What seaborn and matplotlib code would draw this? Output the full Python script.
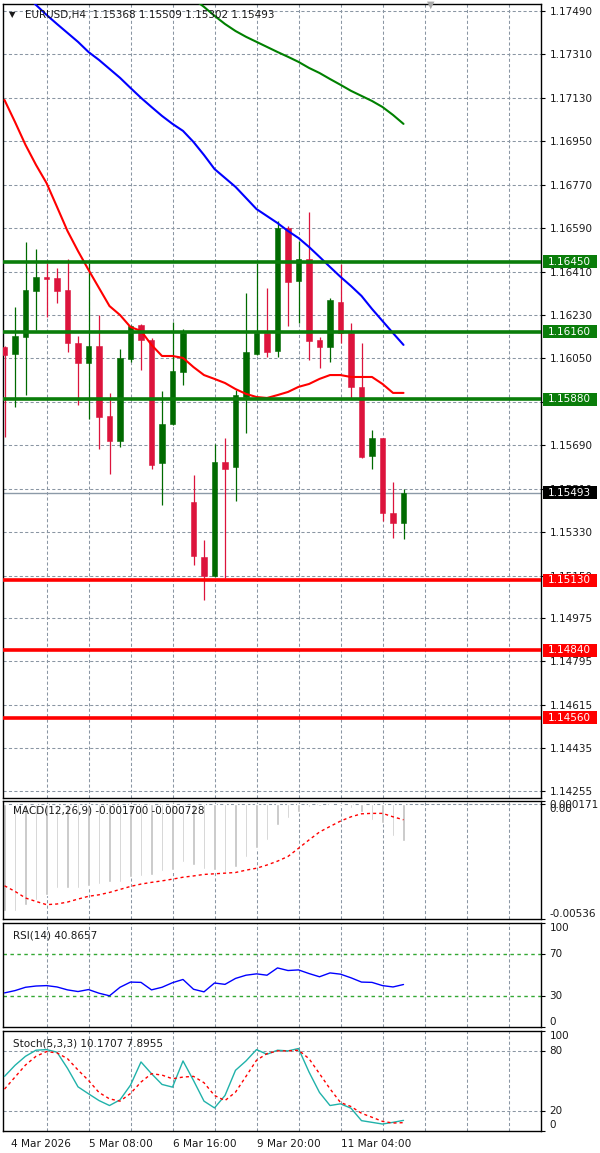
import numpy as np
import pandas as pd
import matplotlib
matplotlib.use("Agg")
import matplotlib.pyplot as plt
import matplotlib.transforms as mtransforms
from matplotlib.patches import Rectangle
import seaborn as sns

# ---------------- data ----------------
opens = [1.16097, 1.16068, 1.16140, 1.16331, 1.16389, 1.16385, 1.16334, 1.16113, 1.16032, 1.16101,
         1.15811, 1.15709, 1.16049, 1.16187, 1.16126, 1.15618, 1.15777, 1.15992, 1.15456, 1.15225,
         1.15149, 1.15619, 1.15601, 1.15891, 1.16068, 1.16154, 1.16081, 1.16592, 1.16371, 1.16461,
         1.16126, 1.16099, 1.16285, 1.16157, 1.15930, 1.15645, 1.15719, 1.15408, 1.15368]
highs = [1.16100, 1.16264, 1.16531, 1.16504, 1.16444, 1.16425, 1.16462, 1.16143, 1.16446, 1.16230,
         1.15905, 1.16089, 1.16189, 1.16193, 1.16133, 1.15916, 1.16202, 1.16172, 1.15567, 1.15297,
         1.15695, 1.15719, 1.15919, 1.16320, 1.16444, 1.16343, 1.16620, 1.16599, 1.16537, 1.16658,
         1.16138, 1.16302, 1.16440, 1.16198, 1.16113, 1.15753, 1.15721, 1.15536, 1.15509]
lows = [1.15724, 1.15850, 1.15898, 1.16168, 1.16222, 1.16281, 1.16078, 1.15857, 1.15799, 1.15673,
        1.15570, 1.15682, 1.16036, 1.16002, 1.15590, 1.15442, 1.15774, 1.15940, 1.15193, 1.15048,
        1.15145, 1.15138, 1.15460, 1.15740, 1.16064, 1.16057, 1.16055, 1.16184, 1.16196, 1.16043,
        1.16009, 1.16036, 1.16113, 1.15885, 1.15637, 1.15590, 1.15377, 1.15304, 1.15302]
closes = [1.16064, 1.16143, 1.16334, 1.16389, 1.16379, 1.16331, 1.16113, 1.16032, 1.16101, 1.15808,
          1.15709, 1.16051, 1.16186, 1.16126, 1.15607, 1.15778, 1.15998, 1.16154, 1.15231, 1.15149,
          1.15619, 1.15590, 1.15898, 1.16075, 1.16157, 1.16075, 1.16592, 1.16366, 1.16461, 1.16124,
          1.16099, 1.16292, 1.16154, 1.15933, 1.15643, 1.15719, 1.15410, 1.15366, 1.15493]

ma_red = [1.17121, 1.17030, 1.16935, 1.16852, 1.16777, 1.16678, 1.16578, 1.16495, 1.16417, 1.16342,
          1.16267, 1.16230, 1.16180, 1.16164, 1.16106, 1.16060, 1.16060, 1.16052, 1.16014, 1.15981,
          1.15965, 1.15948, 1.15923, 1.15903, 1.15890, 1.15886, 1.15898, 1.15911, 1.15932, 1.15944,
          1.15965, 1.15981, 1.15981, 1.15973, 1.15973, 1.15973, 1.15944, 1.15907, 1.15907]
ma_blue = [1.17631, 1.17594, 1.17555, 1.17515, 1.17474, 1.17436, 1.17399, 1.17362, 1.17320, 1.17287,
           1.17250, 1.17213, 1.17171, 1.17130, 1.17092, 1.17055, 1.17022, 1.16993, 1.16947, 1.16893,
           1.16835, 1.16798, 1.16761, 1.16715, 1.16669, 1.16640, 1.16611, 1.16578, 1.16549, 1.16512,
           1.16471, 1.16429, 1.16388, 1.16350, 1.16309, 1.16255, 1.16205, 1.16155, 1.16106]
ma_green = [np.nan] * 17 + [1.17577, 1.17540, 1.17507, 1.17470, 1.17436, 1.17407, 1.17383, 1.17362,
                            1.17341, 1.17320, 1.17300, 1.17279, 1.17254, 1.17233, 1.17208, 1.17184,
                            1.17159, 1.17138, 1.17117, 1.17092, 1.17059, 1.17022]

macd_main = [-0.00500, -0.00497, -0.00472, -0.00446, -0.00423, -0.00392, -0.00389, -0.00389, -0.00384, -0.00373,
             -0.00361, -0.00361, -0.00341, -0.00333, -0.00330, -0.00314, -0.00307, -0.00268, -0.00283, -0.00302,
             -0.00307, -0.00317, -0.00291, -0.00245, -0.00203, -0.00167, -0.00098, -0.00066, -0.00035, -0.00012,
             -0.00007, -0.00005, -0.00007, -0.00020, -0.00035, -0.00075, -0.00090, -0.00150, -0.00170]
macd_signal = [-0.00381, -0.00407, -0.00438, -0.00454, -0.00469, -0.00466, -0.00457, -0.00443, -0.00430, -0.00423,
               -0.00412, -0.00398, -0.00384, -0.00373, -0.00365, -0.00358, -0.00350, -0.00341, -0.00335, -0.00328,
               -0.00325, -0.00322, -0.00319, -0.00308, -0.00299, -0.00284, -0.00266, -0.00244, -0.00206, -0.00167,
               -0.00130, -0.00104, -0.00079, -0.00059, -0.00045, -0.00043, -0.00043, -0.00059, -0.000728]
rsi = [32.8, 35.0, 38.2, 39.4, 39.8, 38.5, 35.7, 34.1, 36.0, 32.5,
       30.0, 38.2, 43.2, 42.9, 35.7, 38.2, 42.6, 45.7, 36.3, 33.8,
       42.3, 41.0, 46.7, 49.8, 51.1, 49.8, 56.8, 54.3, 54.9, 51.4,
       48.3, 52.0, 50.8, 47.3, 43.2, 42.9, 39.8, 38.5, 40.87]
stoch_k = [54.4, 65.5, 74.6, 80.7, 81.3, 78.7, 62.5, 43.9, 36.9, 30.1,
           25.1, 30.8, 45.6, 68.9, 57.1, 46.3, 43.6, 69.9, 50.3, 29.5,
           22.7, 35.2, 60.5, 69.9, 81.3, 76.6, 80.7, 80.0, 82.4, 58.8,
           38.2, 25.1, 26.8, 22.4, 9.9, 8.2, 6.5, 8.2, 10.17]
stoch_d = [41.6, 53.7, 65.8, 74.6, 79.3, 78.0, 72.2, 60.8, 50.3, 38.2,
           31.8, 29.5, 37.2, 48.7, 57.1, 55.7, 52.0, 53.7, 54.4, 48.0,
           35.2, 30.1, 38.5, 54.4, 70.6, 77.3, 80.0, 80.0, 80.7, 72.2,
           57.1, 41.9, 28.1, 24.1, 17.3, 13.3, 9.2, 7.5, 7.8955]

resistance_levels = [1.16450, 1.16160, 1.15880]
support_levels = [1.15130, 1.14840, 1.14560]
last_price = 1.15493
price_ticks = [1.17490, 1.17310, 1.17130, 1.16950, 1.16770, 1.16590, 1.16410, 1.16230, 1.16050,
               1.15870, 1.15690, 1.15510, 1.15330, 1.15150, 1.14975, 1.14795, 1.14615, 1.14435, 1.14255]
hidden_tick_labels = [1.15870]
x_tick_pos = [0, 8, 16, 24, 32]
x_tick_labels = ["4 Mar 2026", "5 Mar 08:00", "6 Mar 16:00", "9 Mar 20:00", "11 Mar 04:00"]
symbol_title = "EURUSD,H4  1.15368 1.15509 1.15302 1.15493"
macd_title = "MACD(12,26,9) -0.001700 -0.000728"
rsi_title = "RSI(14) 40.8657"
stoch_title = "Stoch(5,3,3) 10.1707 7.8955"

# ---------------- style ----------------
sns.set_style("white")
plt.rcParams['font.family'] = ['DejaVu Sans']
FS = 7.5
TXT = '#1a1a1a'
GRID = '#8a96a3'
BULL = '#006a00'
BEAR = '#dc143c'
LVL_G = '#0a7d0a'
LVL_R = '#ff0000'

W, H = 600, 1153
fig = plt.figure(figsize=(W / 100, H / 100), dpi=100)
fig.patch.set_facecolor('white')


def rect(x0, y0, x1, y1):
    return [x0 / W, 1 - y1 / H, (x1 - x0) / W, (y1 - y0) / H]


ax = fig.add_axes(rect(3, 3.5, 541, 798))
axm = fig.add_axes(rect(3, 800.5, 541, 919))
axr = fig.add_axes(rect(3, 923, 541, 1027))
axs = fig.add_axes(rect(3, 1031, 541, 1130.5))

XLIM = (-0.143, 51.095)
idx = np.arange(len(opens))
DASH = (0, (3, 2.2))

for a in (ax, axm, axr, axs):
    a.set_facecolor('white')
    a.set_xlim(*XLIM)
    for s in a.spines.values():
        s.set_color('black')
        s.set_linewidth(1.0)
    for gx in range(4, 52, 4):
        a.axvline(gx, color=GRID, lw=0.75, ls=DASH, zorder=0)
    a.yaxis.tick_right()
    a.tick_params(axis='y', direction='out', length=3, width=0.8, pad=3,
                  labelsize=FS, colors='black', labelcolor=TXT)

# ---------------- main price panel ----------------
df = pd.DataFrame({'i': idx, 'o': opens, 'h': highs, 'l': lows, 'c': closes})
cols = np.where(df['c'] >= df['o'], BULL, BEAR)
for gy in price_ticks:
    ax.axhline(gy, color=GRID, lw=0.75, ls=DASH, zorder=0)
ax.vlines(df['i'], df['l'], df['h'], colors=cols, linewidth=0.9, zorder=3)
body_lo = np.minimum(df['o'], df['c'])
body_h = np.maximum(np.abs(df['c'] - df['o']), 0.00004)
ax.bar(df['i'], body_h, bottom=body_lo, width=0.52, color=cols, edgecolor=cols,
       linewidth=0.4, zorder=4)

sns.lineplot(x=idx, y=ma_green, ax=ax, color='#008000', linewidth=1.5, zorder=5)
sns.lineplot(x=idx, y=ma_blue, ax=ax, color='#0000ff', linewidth=1.5, zorder=5)
sns.lineplot(x=idx, y=ma_red, ax=ax, color='#ff0000', linewidth=1.5, zorder=5)

ax.axhline(last_price, color='#8c9aa8', lw=1.0, zorder=2)
for lv in resistance_levels:
    ax.axhline(lv, color=LVL_G, lw=2.6, zorder=6)
for lv in support_levels:
    ax.axhline(lv, color=LVL_R, lw=2.6, zorder=6)

ax.set_ylim(1.14228, 1.17521)
ax.set_yticks(price_ticks)
ax.set_yticklabels(["" if v in hidden_tick_labels else f"{v:.5f}" for v in price_ticks])
ax.set_xticks([])
ax.set_xlabel('')
ax.set_ylabel('')

# value boxes on the right axis
ytr = ax.get_yaxis_transform()
px_per_unit = 795 / (1.17521 - 1.14228)
box_h = 13 / px_per_unit
x0b = (543 - 3) / 538
wb = (597 - 543) / 538
for lv, fc in ([(v, LVL_G) for v in resistance_levels] + [(v, LVL_R) for v in support_levels]
               + [(last_price, 'black')]):
    ax.add_patch(Rectangle((x0b, lv - box_h / 2), wb, box_h, transform=ytr, clip_on=False,
                           facecolor=fc, edgecolor='none', zorder=10))
    ax.text((548 - 3) / 538, lv, f"{lv:.5f}", transform=ytr, ha='left', va='center',
            fontsize=FS, color='white', zorder=11, clip_on=False)

fig.text(12 / W, 1 - 15 / H, "\u25BC", fontsize=6, color=TXT, ha='center', va='center')
fig.text(25 / W, 1 - 15 / H, symbol_title, fontsize=FS, color=TXT, ha='left', va='center')
fig.text(431 / W, 1 - 5 / H, "\u25BC", fontsize=7, color='#a8a8a8', ha='center', va='center')

# ---------------- MACD ----------------
axm.axhline(0, color=GRID, lw=0.75, ls=DASH, zorder=0)
axm.bar(idx, macd_main, width=0.2, color='#c0c0c0', zorder=2)
sns.lineplot(x=idx, y=macd_signal, ax=axm, color='#ff0000', linewidth=1.0,
             linestyle=(0, (2.2, 2.2)), zorder=3)
axm.set_ylim(-0.00536, 0.000171)
axm.set_yticks([0.000171, 0.0, -0.00536])
axm.set_yticklabels(['0.000171', '0.00', '-0.00536'])
for lbl, va in zip(axm.get_yticklabels(), ['top', 'top', 'bottom']):
    lbl.set_va(va)
axm.set_xticks([])
axm.set_xlabel('')
axm.set_ylabel('')
axm.text(10 / 538, 1 - 10 / 118.5, macd_title, transform=axm.transAxes, fontsize=FS,
         color=TXT, ha='left', va='center')

# ---------------- RSI ----------------
axr.axhline(70, color='#33a833', lw=1.0, ls=(0, (2.5, 2.5)), zorder=1)
axr.axhline(30, color='#33a833', lw=1.0, ls=(0, (2.5, 2.5)), zorder=1)
sns.lineplot(x=idx, y=rsi, ax=axr, color='#0000ff', linewidth=1.0, zorder=3)
axr.set_ylim(0, 100)
axr.set_yticks([100, 70, 30, 0])
axr.set_yticklabels(['100', '70', '30', '0'])
for lbl, va in zip(axr.get_yticklabels(), ['top', 'center', 'center', 'bottom']):
    lbl.set_va(va)
axr.set_xticks([])
axr.set_xlabel('')
axr.set_ylabel('')
axr.text(10 / 538, 1 - 12 / 104, rsi_title, transform=axr.transAxes, fontsize=FS,
         color=TXT, ha='left', va='center')

# ---------------- Stochastic ----------------
axs.axhline(80, color=GRID, lw=0.75, ls=DASH, zorder=0)
axs.axhline(20, color=GRID, lw=0.75, ls=DASH, zorder=0)
sns.lineplot(x=idx, y=stoch_k, ax=axs, color='#20b2aa', linewidth=1.0, zorder=3)
sns.lineplot(x=idx, y=stoch_d, ax=axs, color='#ff0000', linewidth=1.0,
             linestyle=(0, (2.2, 2.2)), zorder=3)
axs.set_ylim(0, 100)
axs.set_yticks([100, 80, 20, 0])
axs.set_yticklabels(['100', '80', '20', '0'])
for lbl, va in zip(axs.get_yticklabels(), ['top', 'center', 'center', 'bottom']):
    lbl.set_va(va)
axs.set_xlim(*XLIM)
axs.set_xticks(x_tick_pos)
axs.set_xticklabels(x_tick_labels, ha='left')
axs.tick_params(axis='x', direction='out', length=3, width=0.8, pad=3,
                labelsize=7.6, colors='black', labelcolor=TXT)
first = axs.get_xticklabels()[0]
first.set_transform(first.get_transform() + mtransforms.ScaledTranslation(0.06, 0, fig.dpi_scale_trans))
axs.set_xlabel('')
axs.set_ylabel('')
axs.text(10 / 538, 1 - 12 / 99.5, stoch_title, transform=axs.transAxes, fontsize=FS,
         color=TXT, ha='left', va='center')

fig.savefig('out.png', dpi=100, facecolor='white')
